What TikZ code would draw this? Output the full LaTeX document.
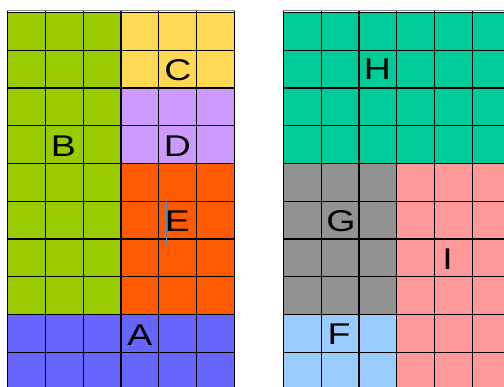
\documentclass[tikz,border=0pt]{standalone}
\usepackage{fontspec}
\setmainfont{Liberation Sans}
\definecolor{cB}{HTML}{99CC00}
\definecolor{cC}{HTML}{FFD954}
\definecolor{cD}{HTML}{CC99FF}
\definecolor{cE}{HTML}{FF5A00}
\definecolor{cA}{HTML}{6666FF}
\definecolor{cH}{HTML}{00CC99}
\definecolor{cG}{HTML}{929292}
\definecolor{cI}{HTML}{FF9999}
\definecolor{cF}{HTML}{99CCFF}
\definecolor{cursorc}{HTML}{4F8CC4}
\begin{document}
\begin{tikzpicture}[x=1pt,y=-1pt,
  gl/.style={black, line width=1.3pt},
  topl/.style={black!45, line width=1pt},
  lbl/.style={inner sep=0pt, anchor=center, text=black, font=\fontsize{30}{30}\selectfont}]
\useasboundingbox (0,0) rectangle (504,387);
\clip (0,0) rectangle (504,387);
% left grid fills
\fill[cB] (7.7,12.6) rectangle (120.95,314.6);
\fill[cC] (120.95,12.6) rectangle (234.2,88.1);
\fill[cD] (120.95,88.1) rectangle (234.2,163.6);
\fill[cE] (120.95,163.6) rectangle (234.2,314.6);
\fill[cA] (7.7,314.6) rectangle (234.2,395);
% right grid fills
\fill[cH] (283.5,12.6) rectangle (510,163.6);
\fill[cG] (283.5,163.6) rectangle (396.75,314.6);
\fill[cI] (396.75,163.6) rectangle (510,395);
\fill[cF] (283.5,314.6) rectangle (396.75,395);
% top shading lines
\draw[topl] (7.2,10.9) -- (234.7,10.9);
\draw[topl] (283,10.9) -- (510,10.9);
% grid lines
\foreach \i in {0,...,6} {
  \draw[gl] (7.7+\i*37.75,10.6) -- (7.7+\i*37.75,395);
  \draw[gl] (283.5+\i*37.75,10.6) -- (283.5+\i*37.75,395);
}
\foreach \j in {0,...,10} {
  \draw[gl] (7.7,12.6+\j*37.75) -- (234.2,12.6+\j*37.75);
  \draw[gl] (283.5,12.6+\j*37.75) -- (510,12.6+\j*37.75);
}
% labels
\node[lbl] (C) at (178,70) {\scalebox{1.25}[1]{C}};
\node[lbl] (B) at (63.5,146.5) {\scalebox{1.25}[1]{B}};
\node[lbl] (D) at (177.5,146.5) {\scalebox{1.25}[1]{D}};
\node[lbl] (E) at (177.5,221) {\scalebox{1.25}[1]{E}};
\node[lbl] (A) at (140,335.5) {\scalebox{1.25}[1]{A}};
\node[lbl] (H) at (377.5,69.5) {\scalebox{1.25}[1]{H}};
\node[lbl] (G) at (341,221.5) {\scalebox{1.25}[1]{G}};
\node[lbl] (I) at (447.5,259) {\scalebox{1.25}[1]{I}};
\node[lbl] (F) at (339,334.5) {\scalebox{1.25}[1]{F}};
% text cursor
\draw[cursorc, line width=1.5pt] (166.5,200.5) -- (166.5,246.5);
\end{tikzpicture}
\end{document}
